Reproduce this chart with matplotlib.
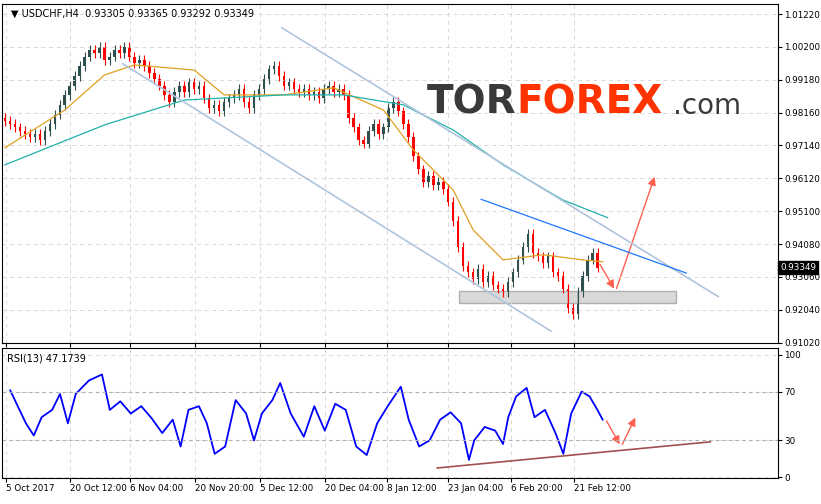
import matplotlib
matplotlib.use("Agg")
import matplotlib.pyplot as plt
import numpy as np
from matplotlib.patches import Rectangle, FancyArrowPatch

closes = [0.979,0.978,0.977,0.976,0.975,0.974,0.975,0.973,0.976,0.978,0.981,0.984,0.987,0.990,0.993,0.996,0.999,1.001,1.000,1.002,
          0.998,0.999,1.001,1.000,1.002,0.999,0.997,0.998,0.996,0.994,0.992,0.990,0.987,0.985,0.988,0.990,0.988,0.991,0.989,0.990,
          0.986,0.983,0.984,0.982,0.985,0.986,0.987,0.989,0.985,0.983,0.987,0.989,0.992,0.995,0.996,0.993,0.990,0.991,0.989,0.988,
          0.989,0.987,0.988,0.986,0.989,0.990,0.988,0.989,0.987,0.980,0.977,0.973,0.972,0.976,0.978,0.975,0.977,0.983,0.985,0.982,
          0.978,0.974,0.968,0.964,0.960,0.962,0.959,0.960,0.958,0.954,0.948,0.940,0.934,0.932,0.930,0.933,0.929,0.931,0.928,0.927,
          0.926,0.929,0.932,0.936,0.940,0.944,0.938,0.937,0.935,0.937,0.932,0.931,0.927,0.921,0.919,0.926,0.931,0.936,0.938,0.93349]
ma_fast_idx = [0,12,20,26,38,44,56,66,76,82,90,94,100,108,116,120]
ma_fast = [0.9707,0.9824,0.9933,0.9964,0.9948,0.9871,0.9871,0.9893,0.9824,0.9700,0.9576,0.9452,0.9359,0.9375,0.9359,0.9353]
ma_slow_idx = [0,20,36,56,68,80,90,100,112,121]
ma_slow = [0.9654,0.9778,0.9855,0.9871,0.9871,0.9840,0.9762,0.9654,0.9545,0.9490]
rsi_zx = [10,40,55,70,90,105,120,135,160,185,200,220,240,260,280,300,320,335,350,370,385,400,420,440,460,475,490,510,525,545,
          570,590,610,630,650,670,690,710,730,755,770,790,810,830,850,870,885,895,915,935,950,960,975,995,1010,1030,1050,1065,1080,1100,1115,1130,1140]
rsi_vals = [71,44,34,49,55,68,44,68,79,84,55,62,52,58,48,36,47,25,55,58,44,19,25,63,52,30,52,63,77,52,
            33,58,38,60,55,25,18,44,58,74,47,25,30,47,53,44,14,30,41,38,27,49,66,73,49,55,36,19,52,70,66,55,47]
price_ticks = [1.01220,1.00200,0.99180,0.98160,0.97140,0.96120,0.95100,0.94080,0.93060,0.92040,0.91020]
date_labels = ["5 Oct 2017","20 Oct 12:00","6 Nov 04:00","20 Nov 20:00","5 Dec 12:00","20 Dec 04:00","8 Jan 12:00","23 Jan 04:00","6 Feb 20:00","21 Feb 12:00"]
date_pos = [0.2,13,25.2,38.2,51.2,64.2,76.8,89,101.6,114.2]

fig = plt.figure(figsize=(8.21,5.04), dpi=100)
ax = fig.add_axes([0.0024,0.3194,0.9452,0.6726])
ar = fig.add_axes([0.0024,0.0516,0.9452,0.258])
for a in (ax, ar):
    a.set_xlim(-0.6,155.2)
    a.yaxis.tick_right()
    a.tick_params(labelsize=6.3, length=3, pad=1.5)
    a.grid(True, ls=(0,(4,4)), color='#d8d8d8', lw=0.7)
    a.set_xticks(date_pos)
    for s in a.spines.values(): s.set_color('black')

opens = [closes[0]+0.001] + closes[:-1]
for i,(o,c) in enumerate(zip(opens, closes)):
    col = '#2f4f4f' if c >= o else '#ff0000'
    hi = max(o,c)+0.0015; lo = min(o,c)-0.0015
    ax.vlines(i, lo, hi, color=col, lw=0.8)
    ax.add_patch(Rectangle((i-0.25,min(o,c)), 0.5, max(abs(c-o),0.0003), color=col, lw=0))
ax.plot(ma_fast_idx, ma_fast, color='#e0a020', lw=0.9)
ax.plot(ma_slow_idx, ma_slow, color='#20b2aa', lw=0.9)
ax.plot([55.6,143.2],[1.0079,0.9245], color='#b0c4de', lw=1.2)
ax.plot([23.6,109.6],[0.9968,0.9138], color='#b0c4de', lw=1.2)
ax.plot([95.6,136.8],[0.9547,0.9318], color='#1e78ff', lw=0.9)
ax.add_patch(Rectangle((91.2,0.9224),43.6,0.0037, facecolor='#d0d0d0', edgecolor='#a0a0a0', alpha=0.8))
for p0,p1 in [((119.2,0.9352),(122.6,0.9262)),((122.6,0.9262),(130.6,0.9625))]:
    ax.add_patch(FancyArrowPatch(p0,p1,arrowstyle='-|>',mutation_scale=12,color='#ff6050',lw=1))
ax.set_ylim(0.9102-0.0001,1.0153)
ax.set_yticks(price_ticks)
ax.set_yticklabels([f"{v:.5f}" for v in price_ticks])
ax.set_xticklabels([])
ax.text(155.6,0.93349,"0.93349",fontsize=6.3,color='white',va='center',ha='left',
        bbox=dict(facecolor='black',edgecolor='black',pad=1.2),clip_on=False)
ax.text(0.012,0.985,"\u25BC USDCHF,H4  0.93305 0.93365 0.93292 0.93349",transform=ax.transAxes,fontsize=7,va='top',family=['DejaVu Sans'])
ax.text(0.548,0.71,"TOR",transform=ax.transAxes,fontsize=28,color='#3a3a3a',fontweight='bold',va='center')
ax.text(0.663,0.71,"FOREX",transform=ax.transAxes,fontsize=28,color='#ff3300',fontweight='bold',va='center')
ax.text(0.865,0.70,".com",transform=ax.transAxes,fontsize=20,color='#3a3a3a',va='center')

rsi_idx = [z/9.5 for z in rsi_zx]
ar.plot(rsi_idx, rsi_vals, color='#0000ff', lw=1.3)
ar.axhline(70, color='#b0b0b0', ls=(0,(3,3)), lw=0.8)
ar.axhline(30, color='#b0b0b0', ls=(0,(3,3)), lw=0.8)
ar.plot([86.8,141.6],[7.4,28.8], color='#a05050', lw=1.2)
for p0,p1 in [((120.5,48),(123.7,24.7)),((123.7,24.7),(126.8,50.7))]:
    ar.add_patch(FancyArrowPatch(p0,p1,arrowstyle='-|>',mutation_scale=12,color='#ff6050',lw=1))
ar.set_ylim(-0.8,105.7)
ar.set_yticks([0,30,70,100])
ar.set_xticklabels(date_labels)
for t in ar.get_xticklabels(): t.set_ha('left')
ar.text(0.006,0.96,"RSI(13) 47.1739",transform=ar.transAxes,fontsize=7,va='top')
fig.savefig("out.png", dpi=100)
